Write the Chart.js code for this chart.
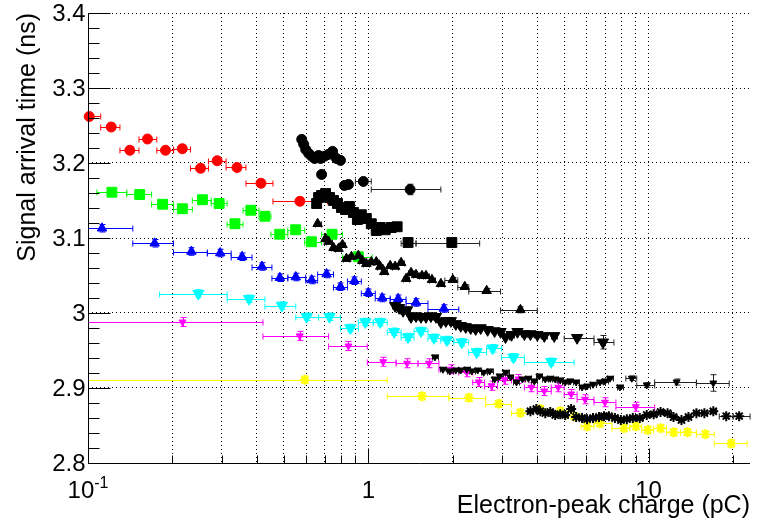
<!DOCTYPE html>
<html>
<head>
<meta charset="utf-8">
<script src="https://cdn.jsdelivr.net/npm/chart.js@4.4.1/dist/chart.umd.min.js"></script>
<style>
  html, body { margin: 0; padding: 0; background: #fff; }
</style>
</head>
<body>
<canvas id="chart" width="758" height="521"></canvas>
<script>
const FONT = '"Liberation Sans", Arial, Helvetica, sans-serif';

// axis ranges and labels
const xMin = 0.1, xMax = 23, yMin = 2.8, yMax = 3.4;
const xLabelValues = [0.1, 1, 10];
const xLabelText = ['10', '1', '10'];
const xLabelSup = ['-1', '', ''];
const yLabelValues = [2.8, 2.9, 3.0, 3.1, 3.2, 3.3, 3.4];
const yLabelText = ['2.8', '2.9', '3', '3.1', '3.2', '3.3', '3.4'];

// red circles
const redX = [0.101, 0.121, 0.141, 0.163, 0.189, 0.217, 0.252, 0.289, 0.340, 0.414, 0.570];
const redY = [3.262, 3.248, 3.217, 3.232, 3.217, 3.219, 3.193, 3.203, 3.194, 3.173, 3.149];
const redEdges = [0.092, 0.111, 0.130, 0.152, 0.176, 0.202, 0.232, 0.269, 0.311, 0.366, 0.457, 0.715];

// green squares
const greenX = [0.1217, 0.1529, 0.1846, 0.2171, 0.2560, 0.2937, 0.3343, 0.381, 0.4278, 0.483, 0.5507, 0.6264, 0.7425, 0.9216];
const greenY = [3.161, 3.158, 3.145, 3.139, 3.151, 3.146, 3.119, 3.137, 3.129, 3.105, 3.111, 3.095, 3.105, 3.075];
const greenEdges = [0.1076, 0.1375, 0.1686, 0.2018, 0.2356, 0.2752, 0.3136, 0.3574, 0.4073, 0.4493, 0.5162, 0.5929, 0.6813, 0.8089, 1.033];

// blue triangles
const blueX = [0.1122, 0.1729, 0.2339, 0.2963, 0.3547, 0.4175, 0.4836, 0.5511, 0.628, 0.7098, 0.7957, 0.892, 1.0, 1.121, 1.278, 1.480, 1.860];
const blueY = [3.113, 3.093, 3.082, 3.080, 3.075, 3.062, 3.047, 3.048, 3.044, 3.052, 3.035, 3.043, 3.027, 3.020, 3.019, 3.014, 3.006];
const blueEdges = [0.0937, 0.1445, 0.2019, 0.2666, 0.3242, 0.3848, 0.4531, 0.5163, 0.598, 0.6596, 0.7515, 0.8425, 0.9445, 1.0588, 1.197, 1.364, 1.6325, 2.103];

// cyan triangles down
const cyanX = [0.2477, 0.3755, 0.4916, 0.6028, 0.7273, 0.8634, 0.9758, 1.103, 1.2366, 1.386, 1.5417, 1.7145, 1.9066, 2.155, 2.436, 2.776, 3.296, 4.494];
const cyanY = [3.026, 3.019, 3.010, 2.995, 2.995, 2.980, 2.988, 2.988, 2.975, 2.968, 2.976, 2.967, 2.964, 2.961, 2.948, 2.953, 2.941, 2.935];
const cyanEdges = [0.1801, 0.3137, 0.4279, 0.5511, 0.6649, 0.7957, 0.9216, 1.0417, 1.168, 1.3094, 1.456, 1.6325, 1.8153, 2.0187, 2.2819, 2.643, 2.988, 3.605, 5.423];

// magenta small triangles down
const magX = [0.2174, 0.5693, 0.8494, 1.130, 1.375, 1.646, 1.970, 2.245, 2.476, 2.753, 3.062, 3.433, 3.818, 4.245, 4.760, 5.292, 5.933, 6.987, 9.0];
const magY = [2.988, 2.9695, 2.956, 2.935, 2.933, 2.933, 2.925, 2.921, 2.908, 2.903, 2.911, 2.912, 2.901, 2.896, 2.901, 2.892, 2.885, 2.881, 2.875];
const magEdges = [0.0937, 0.4209, 0.7214, 0.9919, 1.257, 1.5044, 1.786, 2.103, 2.358, 2.600, 2.892, 3.242, 3.605, 4.009, 4.494, 4.999, 5.558, 6.386, 7.644, 10.51];

// yellow stars
const yelX = [0.593, 1.554, 2.282, 2.916, 3.489, 4.108, 4.838, 5.423, 6.031, 6.707, 8.159, 9.0, 9.927, 11.03, 12.27, 13.76, 15.94, 19.71];
const yelY = [2.911, 2.889, 2.887, 2.879, 2.867, 2.872, 2.869, 2.8625, 2.849, 2.853, 2.8465, 2.849, 2.844, 2.8465, 2.841, 2.841, 2.8385, 2.826];
const yelEdges = [0.0937, 1.168, 1.938, 2.622, 3.242, 3.787, 4.458, 5.122, 5.743, 6.386, 7.398, 8.569, 9.452, 10.42, 11.59, 13.0, 14.81, 17.15, 22.46];

// black circles
const bCircX = [0.5787, 0.5882, 0.5979, 0.6128, 0.628, 0.6436, 0.6649, 0.6759, 0.6983, 0.7214, 0.7454, 0.7701, 0.7957, 0.6814, 0.8221, 0.8494, 0.96, 1.4093];
const bCircY = [3.2315, 3.225, 3.218, 3.2128, 3.209, 3.206, 3.210, 3.206, 3.209, 3.2115, 3.2155, 3.206, 3.2035, 3.1847, 3.170, 3.1714, 3.1754, 3.1647];
const bCircTail = [0.8994, 1.0248, 1.8153];
const bCircTailErr = [0.003, 0.007];

// black squares
const bSqX = [0.6542, 0.6649, 0.6814, 0.704, 0.7273, 0.7515, 0.7764, 0.8022, 0.8288, 0.8564, 0.8848, 0.9142, 0.9445, 0.9838, 1.0248, 1.0675, 1.103, 1.1489, 1.2067, 1.2673, 1.3864, 1.986];
const bSqY = [3.146, 3.154, 3.1567, 3.1593, 3.154, 3.150, 3.146, 3.1406, 3.138, 3.142, 3.134, 3.1246, 3.131, 3.126, 3.119, 3.110, 3.114, 3.111, 3.114, 3.115, 3.094, 3.094];
const bSqTail = [1.3094, 1.480, 2.4964];
const bSqTailErr = [0.003, 0.004];

// black triangles up
const bTriX = [0.6596, 0.704, 0.7214, 0.7515, 0.7828, 0.8088, 0.8356, 0.8705, 0.9216, 0.9522, 0.9838, 1.0248, 1.0675, 1.103, 1.1396, 1.197, 1.2467, 1.3094, 1.364, 1.4208, 1.480, 1.5544, 1.606, 1.6867, 1.8153, 2.0023, 2.2085, 2.6433, 3.4894];
const bTriY = [3.119, 3.099, 3.0952, 3.087, 3.0858, 3.091, 3.0724, 3.075, 3.0765, 3.0698, 3.0657, 3.068, 3.068, 3.062, 3.055, 3.063, 3.062, 3.067, 3.0457, 3.0537, 3.051, 3.0497, 3.0497, 3.0443, 3.039, 3.0443, 3.035, 3.0297, 3.0043];
const bTriTail = [1.8755, 2.0858, 2.2819, 2.964, 4.009];
const bTriTailErr = [0.003, 0.003, 0.003, 0.004];

// black triangles down
const bDownX = [1.2467, 1.2882, 1.331, 1.3752, 1.4208, 1.480, 1.5417, 1.606, 1.673, 1.7427, 1.8153, 1.891, 1.970, 2.052, 2.1375, 2.2266, 2.3194, 2.416, 2.5168, 2.665, 2.8217, 2.964, 3.0872, 3.242, 3.405, 3.605, 3.787, 4.009, 4.245, 4.606, 5.558, 6.874];
const bDownY = [3.0096, 3.007, 3.003, 3.004, 2.995, 2.996, 2.995, 2.995, 2.996, 2.995, 2.988, 2.9895, 2.9895, 2.9855, 2.983, 2.9815, 2.980, 2.9788, 2.980, 2.9776, 2.976, 2.975, 2.968, 2.971, 2.975, 2.972, 2.972, 2.971, 2.9695, 2.9695, 2.967, 2.961];
const bDownTail = [4.999, 6.386, 7.52];
const bDownTailErr = [0.003, 0.009];

// black small triangles down
const bSmallX = [1.7285, 1.8453, 1.954, 2.052, 2.1375, 2.245, 2.3385, 2.4559, 2.5792, 2.709, 2.8217, 2.94, 3.0872, 3.2158, 3.3775, 3.547, 3.725, 3.912, 4.075, 4.28, 4.458, 4.644, 4.838, 5.04, 5.249, 5.513, 5.79, 6.031, 6.334, 6.707, 6.987, 7.278, 7.897, 8.711, 9.846, 12.58, 17.015];
const bSmallY = [2.9414, 2.925, 2.9227, 2.924, 2.924, 2.925, 2.9227, 2.924, 2.921, 2.9227, 2.912, 2.916, 2.921, 2.9147, 2.908, 2.912, 2.913, 2.9094, 2.916, 2.912, 2.913, 2.912, 2.9107, 2.908, 2.9094, 2.908, 2.9013, 2.9026, 2.905, 2.908, 2.9094, 2.913, 2.9013, 2.913, 2.904, 2.908, 2.9067];
const bSmallTail = [8.294, 9.074, 10.51, 14.81, 19.39];
const bSmallTailErr = [0.003, 0.003, 0.004, 0.011];

// black stars
const bStarX = [3.787, 3.977, 4.108, 4.28, 4.458, 4.644, 4.838, 5.04, 5.292, 5.513, 5.79, 6.031, 6.334, 6.653, 6.93, 7.219, 7.581, 7.962, 8.362, 8.782, 9.299, 9.846, 10.425, 11.03, 11.685, 12.27, 13.10, 13.875, 14.81, 15.81, 17.015, 18.92, 21.04];
const bStarY = [2.869, 2.872, 2.869, 2.8665, 2.868, 2.864, 2.865, 2.864, 2.872, 2.8612, 2.860, 2.8585, 2.860, 2.8612, 2.8625, 2.8625, 2.860, 2.8572, 2.8585, 2.860, 2.860, 2.864, 2.865, 2.868, 2.8665, 2.8612, 2.8572, 2.8612, 2.8665, 2.8665, 2.869, 2.8625, 2.8625];
const bStarTail = [17.87, 20.03, 23.02];
const bStarTailErr = [0.003, 0.003];

function toPoints(xs, ys) {
  return xs.map((v, i) => ({ x: v, y: ys[i] }));
}

function series(xs, ys, edges, yErr, color, style, radius, rotation, tailErr) {
  return {
    data: toPoints(xs, ys),
    edges: edges,
    yErr: yErr,
    tailYErr: tailErr || null,
    barColor: color === '#000000' ? '#222222' : color,
    pointStyle: style,
    pointRadius: radius,
    pointRotation: rotation,
    pointBackgroundColor: color,
    pointBorderColor: color,
    pointBorderWidth: style === 'star' ? 2 : 1,
    showLine: false,
    clip: false,
    order: color === '#000000' ? 0 : 1
  };
}

// x grid positions: 1..9 times each decade inside the range
const xGridValues = [];
[0.1, 1, 10].forEach(d => {
  for (let m = 1; m <= 9; m++) {
    const v = +(d * m).toPrecision(3);
    if (v <= xMax) xGridValues.push(v);
  }
});

const errorBars = {
  id: 'errorBars',
  beforeDatasetsDraw(chart) {
    const { ctx, chartArea: a } = chart;
    const sx = chart.scales.x, sy = chart.scales.y;
    ctx.save();
    ctx.beginPath();
    ctx.rect(a.left, 0, a.right - a.left + 6, chart.height);
    ctx.clip();
    ctx.lineWidth = 1;
    chart.data.datasets.forEach(ds => {
      const n = ds.data.length;
      const off = n - (ds.edges.length - 1);
      ctx.strokeStyle = ds.barColor;
      ds.data.forEach((p, i) => {
        const px = Math.round(sx.getPixelForValue(p.x)) + 0.5;
        const py = Math.round(sy.getPixelForValue(p.y)) + 0.5;
        const t = i - off;
        let lo = px - 3, hi = px + 3, ye = ds.yErr;
        if (t >= 0) {
          lo = sx.getPixelForValue(ds.edges[t]);
          hi = sx.getPixelForValue(ds.edges[t + 1]);
          if (ds.tailYErr) ye = ds.tailYErr[t];
        }
        const yt = sy.getPixelForValue(p.y + ye), yb = sy.getPixelForValue(p.y - ye);
        ctx.beginPath();
        ctx.moveTo(lo, py); ctx.lineTo(hi, py);
        ctx.moveTo(lo, py - 3); ctx.lineTo(lo, py + 3);
        ctx.moveTo(hi, py - 3); ctx.lineTo(hi, py + 3);
        ctx.moveTo(px, yt); ctx.lineTo(px, yb);
        ctx.moveTo(px - 3, yt); ctx.lineTo(px + 3, yt);
        ctx.moveTo(px - 3, yb); ctx.lineTo(px + 3, yb);
        ctx.stroke();
      });
    });
    ctx.restore();
  }
};

const rootAxes = {
  id: 'rootAxes',
  afterDraw(chart) {
    const { ctx, chartArea: a } = chart;
    const sx = chart.scales.x, sy = chart.scales.y;
    const L = Math.round(a.left) + 0.5, B = Math.round(a.bottom) + 0.5;
    ctx.save();
    ctx.strokeStyle = '#000';
    ctx.lineWidth = 1;
    ctx.beginPath();
    ctx.moveTo(L, a.top); ctx.lineTo(L, B); ctx.lineTo(a.right, B);
    for (let k = 0; k <= 30; k++) {
      const yy = Math.round(sy.getPixelForValue(yMin + k * 0.02)) + 0.5;
      ctx.moveTo(L, yy); ctx.lineTo(L + (k % 5 ? 11 : 22), yy);
    }
    xGridValues.forEach(v => {
      const xx = Math.round(sx.getPixelForValue(v)) + 0.5;
      const major = xLabelValues.includes(v);
      ctx.moveTo(xx, B); ctx.lineTo(xx, B - (major ? 15 : 8));
    });
    ctx.stroke();

    ctx.fillStyle = '#000';
    ctx.font = '24px ' + FONT;
    ctx.textAlign = 'right';
    ctx.textBaseline = 'middle';
    yLabelValues.forEach((v, i) => {
      ctx.fillText(yLabelText[i], L - 3, sy.getPixelForValue(v) + 1);
    });

    ctx.textAlign = 'left';
    ctx.textBaseline = 'alphabetic';
    xLabelValues.forEach((v, i) => {
      const x0 = sx.getPixelForValue(v);
      ctx.font = '24px ' + FONT;
      const wBase = ctx.measureText(xLabelText[i]).width;
      ctx.font = '16px ' + FONT;
      const wSup = xLabelSup[i] ? ctx.measureText(xLabelSup[i]).width : 0;
      const start = x0 - (wBase + wSup) / 2;
      ctx.font = '24px ' + FONT;
      ctx.fillText(xLabelText[i], start, 498);
      if (wSup) {
        ctx.font = '16px ' + FONT;
        ctx.fillText(xLabelSup[i], start + wBase, 488);
      }
    });
    ctx.restore();
  }
};

const datasets = [
  series(redX, redY, redEdges, 0.005, '#ff0000', 'circle', 5, 0),
  series(greenX, greenY, greenEdges, 0.005, '#00ff00', 'rect', 7, 0),
  series(blueX, blueY, blueEdges, 0.005, '#0000ff', 'triangle', 5.5, 0),
  series(cyanX, cyanY, cyanEdges, 0.005, '#00ffff', 'triangle', 6.5, 180),
  series(magX, magY, magEdges, 0.006, '#ff00ff', 'triangle', 4, 180),
  series(yelX, yelY, yelEdges, 0.005, '#ffff00', 'star', 5, 0),
  series(bCircX, bCircY, bCircTail, 0.002, '#000000', 'circle', 5, 0, bCircTailErr),
  series(bSqX, bSqY, bSqTail, 0.002, '#000000', 'rect', 7, 0, bSqTailErr),
  series(bTriX, bTriY, bTriTail, 0.002, '#000000', 'triangle', 5.5, 0, bTriTailErr),
  series(bDownX, bDownY, bDownTail, 0.002, '#000000', 'triangle', 6.5, 180, bDownTailErr),
  series(bSmallX, bSmallY, bSmallTail, 0.002, '#000000', 'triangle', 4, 180, bSmallTailErr),
  series(bStarX, bStarY, bStarTail, 0.002, '#000000', 'star', 5, 0, bStarTailErr)
];

new Chart(document.getElementById('chart'), {
  type: 'scatter',
  data: { datasets: datasets },
  plugins: [errorBars, rootAxes],
  options: {
    responsive: false,
    devicePixelRatio: 1,
    animation: false,
    events: [],
    layout: { padding: { left: 0, right: 5, top: 13, bottom: 0 } },
    plugins: { legend: { display: false }, tooltip: { enabled: false } },
    scales: {
      x: {
        type: 'logarithmic',
        min: xMin,
        max: xMax,
        afterFit: s => { s.height = 58; },
        afterBuildTicks: s => { s.ticks = xGridValues.map(v => ({ value: v })); },
        ticks: { display: false },
        grid: { color: '#000', lineWidth: 1, drawTicks: false },
        border: { display: false, dash: [1, 3] },
        title: {
          display: true, text: 'Electron-peak charge (pC)', align: 'end', color: '#000',
          font: { family: FONT, size: 25 }, padding: { top: 0, bottom: 0 }
        }
      },
      y: {
        min: yMin,
        max: yMax,
        afterFit: s => { s.width = 88; },
        ticks: { display: false, stepSize: 0.1 },
        grid: { color: '#000', lineWidth: 1, drawTicks: false },
        border: { display: false, dash: [1, 3] },
        title: {
          display: true, text: 'Signal arrival time (ns)', align: 'end', color: '#000',
          font: { family: FONT, size: 25 }, padding: { top: 13, bottom: 0 }
        }
      }
    }
  }
});
</script>
</body>
</html>
